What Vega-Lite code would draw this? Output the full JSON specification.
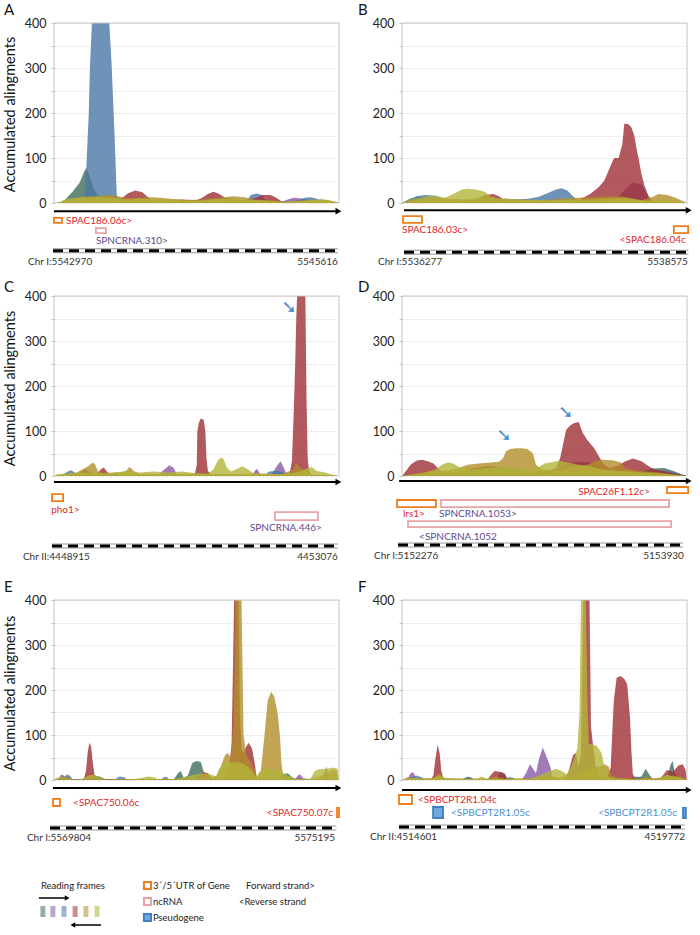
{
"$schema": "https://vega.github.io/schema/vega-lite/v6.json",
"padding": {"left": 2, "top": 3, "right": 2, "bottom": 0},
"config": {"view": {"stroke": null}, "font": "Lato", "text": {"font": "Lato"}},
"columns": 2,
"spacing": {"row": 20, "column": 63},
"bounds": "flush",
"datasets": {
"areas": [
{"p":"A","f":"+1","x":0,"y":0},{"p":"A","f":"+1","x":2,"y":1},{"p":"A","f":"+1","x":4,"y":8},{"p":"A","f":"+1","x":6.5,"y":25},{"p":"A","f":"+1","x":9,"y":45},{"p":"A","f":"+1","x":10.6,"y":70},{"p":"A","f":"+1","x":11.3,"y":78},{"p":"A","f":"+1","x":12.5,"y":60},{"p":"A","f":"+1","x":14,"y":30},{"p":"A","f":"+1","x":16,"y":12},{"p":"A","f":"+1","x":20,"y":6},{"p":"A","f":"+1","x":25,"y":3},{"p":"A","f":"+1","x":35,"y":4},{"p":"A","f":"+1","x":45,"y":6},{"p":"A","f":"+1","x":52,"y":3},{"p":"A","f":"+1","x":60,"y":2},{"p":"A","f":"+1","x":70,"y":4},{"p":"A","f":"+1","x":80,"y":2},{"p":"A","f":"+1","x":90,"y":3},{"p":"A","f":"+1","x":100,"y":0},
{"p":"A","f":"+2","x":0,"y":0},{"p":"A","f":"+2","x":20,"y":0},{"p":"A","f":"+2","x":21.5,"y":8},{"p":"A","f":"+2","x":23,"y":12},{"p":"A","f":"+2","x":24.5,"y":3},{"p":"A","f":"+2","x":30,"y":3},{"p":"A","f":"+2","x":50,"y":3},{"p":"A","f":"+2","x":60,"y":4},{"p":"A","f":"+2","x":70,"y":3},{"p":"A","f":"+2","x":80,"y":3},{"p":"A","f":"+2","x":82,"y":8},{"p":"A","f":"+2","x":84,"y":12},{"p":"A","f":"+2","x":87,"y":10},{"p":"A","f":"+2","x":90,"y":6},{"p":"A","f":"+2","x":94,"y":8},{"p":"A","f":"+2","x":97,"y":4},{"p":"A","f":"+2","x":100,"y":0},
{"p":"A","f":"+3","x":0,"y":0},{"p":"A","f":"+3","x":5,"y":0},{"p":"A","f":"+3","x":10.5,"y":2},{"p":"A","f":"+3","x":11,"y":40},{"p":"A","f":"+3","x":11.5,"y":100},{"p":"A","f":"+3","x":12.2,"y":200},{"p":"A","f":"+3","x":12.6,"y":300},{"p":"A","f":"+3","x":13.3,"y":420},{"p":"A","f":"+3","x":19.4,"y":420},{"p":"A","f":"+3","x":20.2,"y":310},{"p":"A","f":"+3","x":21.2,"y":160},{"p":"A","f":"+3","x":22,"y":20},{"p":"A","f":"+3","x":22.5,"y":5},{"p":"A","f":"+3","x":30,"y":5},{"p":"A","f":"+3","x":40,"y":6},{"p":"A","f":"+3","x":48,"y":5},{"p":"A","f":"+3","x":55,"y":4},{"p":"A","f":"+3","x":63,"y":5},{"p":"A","f":"+3","x":68,"y":8},{"p":"A","f":"+3","x":69,"y":18},{"p":"A","f":"+3","x":71,"y":21},{"p":"A","f":"+3","x":73,"y":18},{"p":"A","f":"+3","x":74,"y":8},{"p":"A","f":"+3","x":78,"y":3},{"p":"A","f":"+3","x":85,"y":5},{"p":"A","f":"+3","x":88,"y":12},{"p":"A","f":"+3","x":90,"y":13},{"p":"A","f":"+3","x":92,"y":10},{"p":"A","f":"+3","x":94,"y":3},{"p":"A","f":"+3","x":98,"y":1},{"p":"A","f":"+3","x":100,"y":0},
{"p":"A","f":"-1","x":0,"y":0},{"p":"A","f":"-1","x":20,"y":0},{"p":"A","f":"-1","x":22,"y":3},{"p":"A","f":"-1","x":24,"y":12},{"p":"A","f":"-1","x":26,"y":22},{"p":"A","f":"-1","x":28.5,"y":28},{"p":"A","f":"-1","x":31,"y":24},{"p":"A","f":"-1","x":33.5,"y":10},{"p":"A","f":"-1","x":36,"y":5},{"p":"A","f":"-1","x":40,"y":6},{"p":"A","f":"-1","x":45,"y":8},{"p":"A","f":"-1","x":50,"y":6},{"p":"A","f":"-1","x":52,"y":12},{"p":"A","f":"-1","x":54,"y":20},{"p":"A","f":"-1","x":56,"y":25},{"p":"A","f":"-1","x":58,"y":20},{"p":"A","f":"-1","x":60,"y":12},{"p":"A","f":"-1","x":64,"y":8},{"p":"A","f":"-1","x":68,"y":6},{"p":"A","f":"-1","x":71,"y":12},{"p":"A","f":"-1","x":73,"y":18},{"p":"A","f":"-1","x":76,"y":18},{"p":"A","f":"-1","x":78,"y":12},{"p":"A","f":"-1","x":80,"y":3},{"p":"A","f":"-1","x":84,"y":2},{"p":"A","f":"-1","x":100,"y":0},
{"p":"A","f":"-2","x":0,"y":0},{"p":"A","f":"-2","x":3,"y":2},{"p":"A","f":"-2","x":6,"y":8},{"p":"A","f":"-2","x":10,"y":14},{"p":"A","f":"-2","x":14,"y":15},{"p":"A","f":"-2","x":18,"y":18},{"p":"A","f":"-2","x":22,"y":16},{"p":"A","f":"-2","x":26,"y":10},{"p":"A","f":"-2","x":30,"y":12},{"p":"A","f":"-2","x":35,"y":13},{"p":"A","f":"-2","x":40,"y":10},{"p":"A","f":"-2","x":46,"y":7},{"p":"A","f":"-2","x":52,"y":8},{"p":"A","f":"-2","x":58,"y":12},{"p":"A","f":"-2","x":63,"y":15},{"p":"A","f":"-2","x":67,"y":13},{"p":"A","f":"-2","x":70,"y":8},{"p":"A","f":"-2","x":76,"y":6},{"p":"A","f":"-2","x":80,"y":3},{"p":"A","f":"-2","x":86,"y":5},{"p":"A","f":"-2","x":92,"y":8},{"p":"A","f":"-2","x":96,"y":7},{"p":"A","f":"-2","x":99,"y":2},{"p":"A","f":"-2","x":100,"y":0},
{"p":"A","f":"-3","x":0,"y":0},{"p":"A","f":"-3","x":2,"y":2},{"p":"A","f":"-3","x":5,"y":10},{"p":"A","f":"-3","x":10,"y":13},{"p":"A","f":"-3","x":15,"y":14},{"p":"A","f":"-3","x":20,"y":12},{"p":"A","f":"-3","x":25,"y":8},{"p":"A","f":"-3","x":30,"y":10},{"p":"A","f":"-3","x":35,"y":9},{"p":"A","f":"-3","x":40,"y":8},{"p":"A","f":"-3","x":45,"y":6},{"p":"A","f":"-3","x":50,"y":5},{"p":"A","f":"-3","x":55,"y":8},{"p":"A","f":"-3","x":60,"y":10},{"p":"A","f":"-3","x":65,"y":9},{"p":"A","f":"-3","x":70,"y":7},{"p":"A","f":"-3","x":75,"y":5},{"p":"A","f":"-3","x":80,"y":3},{"p":"A","f":"-3","x":85,"y":4},{"p":"A","f":"-3","x":90,"y":6},{"p":"A","f":"-3","x":95,"y":8},{"p":"A","f":"-3","x":99,"y":3},{"p":"A","f":"-3","x":100,"y":0},

{"p":"B","f":"+1","x":0,"y":0},{"p":"B","f":"+1","x":3,"y":10},{"p":"B","f":"+1","x":6,"y":14},{"p":"B","f":"+1","x":10,"y":10},{"p":"B","f":"+1","x":20,"y":5},{"p":"B","f":"+1","x":30,"y":6},{"p":"B","f":"+1","x":40,"y":4},{"p":"B","f":"+1","x":60,"y":5},{"p":"B","f":"+1","x":75,"y":6},{"p":"B","f":"+1","x":85,"y":4},{"p":"B","f":"+1","x":95,"y":3},{"p":"B","f":"+1","x":100,"y":0},
{"p":"B","f":"+2","x":0,"y":0},{"p":"B","f":"+2","x":30,"y":2},{"p":"B","f":"+2","x":38,"y":6},{"p":"B","f":"+2","x":42,"y":8},{"p":"B","f":"+2","x":46,"y":4},{"p":"B","f":"+2","x":60,"y":2},{"p":"B","f":"+2","x":72,"y":3},{"p":"B","f":"+2","x":76,"y":15},{"p":"B","f":"+2","x":79,"y":35},{"p":"B","f":"+2","x":81,"y":45},{"p":"B","f":"+2","x":84,"y":42},{"p":"B","f":"+2","x":86,"y":20},{"p":"B","f":"+2","x":88,"y":3},{"p":"B","f":"+2","x":100,"y":0},
{"p":"B","f":"+3","x":0,"y":0},{"p":"B","f":"+3","x":2,"y":5},{"p":"B","f":"+3","x":5,"y":15},{"p":"B","f":"+3","x":8,"y":18},{"p":"B","f":"+3","x":12,"y":16},{"p":"B","f":"+3","x":14,"y":10},{"p":"B","f":"+3","x":18,"y":5},{"p":"B","f":"+3","x":25,"y":4},{"p":"B","f":"+3","x":32,"y":6},{"p":"B","f":"+3","x":36,"y":10},{"p":"B","f":"+3","x":40,"y":8},{"p":"B","f":"+3","x":45,"y":10},{"p":"B","f":"+3","x":48,"y":14},{"p":"B","f":"+3","x":51,"y":22},{"p":"B","f":"+3","x":54,"y":30},{"p":"B","f":"+3","x":56,"y":33},{"p":"B","f":"+3","x":58,"y":28},{"p":"B","f":"+3","x":60,"y":15},{"p":"B","f":"+3","x":62,"y":5},{"p":"B","f":"+3","x":70,"y":3},{"p":"B","f":"+3","x":80,"y":2},{"p":"B","f":"+3","x":90,"y":2},{"p":"B","f":"+3","x":100,"y":0},
{"p":"B","f":"-1","x":0,"y":0},{"p":"B","f":"-1","x":10,"y":3},{"p":"B","f":"-1","x":20,"y":5},{"p":"B","f":"-1","x":26,"y":8},{"p":"B","f":"-1","x":29,"y":18},{"p":"B","f":"-1","x":32,"y":20},{"p":"B","f":"-1","x":34,"y":15},{"p":"B","f":"-1","x":36,"y":6},{"p":"B","f":"-1","x":45,"y":3},{"p":"B","f":"-1","x":55,"y":3},{"p":"B","f":"-1","x":60,"y":2},{"p":"B","f":"-1","x":61.5,"y":3},{"p":"B","f":"-1","x":63,"y":10},{"p":"B","f":"-1","x":66,"y":20},{"p":"B","f":"-1","x":69,"y":35},{"p":"B","f":"-1","x":71,"y":50},{"p":"B","f":"-1","x":73,"y":80},{"p":"B","f":"-1","x":74.4,"y":100},{"p":"B","f":"-1","x":76,"y":100},{"p":"B","f":"-1","x":77.3,"y":130},{"p":"B","f":"-1","x":78,"y":176},{"p":"B","f":"-1","x":79.5,"y":175},{"p":"B","f":"-1","x":80.5,"y":168},{"p":"B","f":"-1","x":81.5,"y":150},{"p":"B","f":"-1","x":82.3,"y":120},{"p":"B","f":"-1","x":83,"y":100},{"p":"B","f":"-1","x":84,"y":65},{"p":"B","f":"-1","x":85,"y":40},{"p":"B","f":"-1","x":86.7,"y":12},{"p":"B","f":"-1","x":88,"y":2},{"p":"B","f":"-1","x":92,"y":3},{"p":"B","f":"-1","x":100,"y":0},
{"p":"B","f":"-2","x":0,"y":0},{"p":"B","f":"-2","x":4,"y":6},{"p":"B","f":"-2","x":10,"y":12},{"p":"B","f":"-2","x":16,"y":10},{"p":"B","f":"-2","x":22,"y":8},{"p":"B","f":"-2","x":28,"y":12},{"p":"B","f":"-2","x":34,"y":10},{"p":"B","f":"-2","x":40,"y":8},{"p":"B","f":"-2","x":48,"y":6},{"p":"B","f":"-2","x":52,"y":8},{"p":"B","f":"-2","x":56,"y":10},{"p":"B","f":"-2","x":62,"y":12},{"p":"B","f":"-2","x":70,"y":14},{"p":"B","f":"-2","x":76,"y":15},{"p":"B","f":"-2","x":80,"y":12},{"p":"B","f":"-2","x":84,"y":6},{"p":"B","f":"-2","x":88,"y":14},{"p":"B","f":"-2","x":90,"y":20},{"p":"B","f":"-2","x":93,"y":18},{"p":"B","f":"-2","x":96,"y":12},{"p":"B","f":"-2","x":99,"y":3},{"p":"B","f":"-2","x":100,"y":0},
{"p":"B","f":"-3","x":0,"y":0},{"p":"B","f":"-3","x":3,"y":8},{"p":"B","f":"-3","x":8,"y":14},{"p":"B","f":"-3","x":12,"y":16},{"p":"B","f":"-3","x":15,"y":12},{"p":"B","f":"-3","x":18,"y":20},{"p":"B","f":"-3","x":21,"y":30},{"p":"B","f":"-3","x":23,"y":32},{"p":"B","f":"-3","x":26,"y":30},{"p":"B","f":"-3","x":29,"y":25},{"p":"B","f":"-3","x":31,"y":15},{"p":"B","f":"-3","x":34,"y":10},{"p":"B","f":"-3","x":40,"y":8},{"p":"B","f":"-3","x":50,"y":6},{"p":"B","f":"-3","x":60,"y":8},{"p":"B","f":"-3","x":66,"y":8},{"p":"B","f":"-3","x":72,"y":10},{"p":"B","f":"-3","x":78,"y":12},{"p":"B","f":"-3","x":82,"y":8},{"p":"B","f":"-3","x":86,"y":5},{"p":"B","f":"-3","x":90,"y":8},{"p":"B","f":"-3","x":95,"y":6},{"p":"B","f":"-3","x":100,"y":0},

{"p":"C","f":"+1","x":0,"y":0},{"p":"C","f":"+1","x":8,"y":3},{"p":"C","f":"+1","x":11,"y":15},{"p":"C","f":"+1","x":12,"y":10},{"p":"C","f":"+1","x":14,"y":4},{"p":"C","f":"+1","x":30,"y":3},{"p":"C","f":"+1","x":60,"y":2},{"p":"C","f":"+1","x":90,"y":2},{"p":"C","f":"+1","x":100,"y":0},
{"p":"C","f":"+2","x":0,"y":0},{"p":"C","f":"+2","x":35,"y":0},{"p":"C","f":"+2","x":37,"y":5},{"p":"C","f":"+2","x":38.8,"y":15},{"p":"C","f":"+2","x":40.5,"y":24},{"p":"C","f":"+2","x":42,"y":18},{"p":"C","f":"+2","x":43,"y":5},{"p":"C","f":"+2","x":45,"y":2},{"p":"C","f":"+2","x":69.5,"y":0},{"p":"C","f":"+2","x":70.3,"y":10},{"p":"C","f":"+2","x":71.2,"y":16},{"p":"C","f":"+2","x":72.3,"y":5},{"p":"C","f":"+2","x":73,"y":0},{"p":"C","f":"+2","x":76,"y":2},{"p":"C","f":"+2","x":77,"y":10},{"p":"C","f":"+2","x":78.5,"y":25},{"p":"C","f":"+2","x":79.5,"y":33},{"p":"C","f":"+2","x":80.5,"y":20},{"p":"C","f":"+2","x":81.5,"y":5},{"p":"C","f":"+2","x":83,"y":0},{"p":"C","f":"+2","x":100,"y":0},
{"p":"C","f":"+3","x":0,"y":0},{"p":"C","f":"+3","x":3,"y":3},{"p":"C","f":"+3","x":4.8,"y":10},{"p":"C","f":"+3","x":6,"y":13},{"p":"C","f":"+3","x":7.7,"y":6},{"p":"C","f":"+3","x":9,"y":2},{"p":"C","f":"+3","x":20,"y":2},{"p":"C","f":"+3","x":21,"y":6},{"p":"C","f":"+3","x":22,"y":8},{"p":"C","f":"+3","x":23,"y":3},{"p":"C","f":"+3","x":40,"y":2},{"p":"C","f":"+3","x":60,"y":2},{"p":"C","f":"+3","x":74,"y":3},{"p":"C","f":"+3","x":75.5,"y":10},{"p":"C","f":"+3","x":78,"y":12},{"p":"C","f":"+3","x":80,"y":10},{"p":"C","f":"+3","x":81,"y":4},{"p":"C","f":"+3","x":82.5,"y":2},{"p":"C","f":"+3","x":100,"y":0},
{"p":"C","f":"-1","x":0,"y":0},{"p":"C","f":"-1","x":2,"y":2},{"p":"C","f":"-1","x":10,"y":4},{"p":"C","f":"-1","x":15,"y":5},{"p":"C","f":"-1","x":16.5,"y":15},{"p":"C","f":"-1","x":17.5,"y":19},{"p":"C","f":"-1","x":18.5,"y":10},{"p":"C","f":"-1","x":20,"y":3},{"p":"C","f":"-1","x":30,"y":3},{"p":"C","f":"-1","x":40,"y":4},{"p":"C","f":"-1","x":48,"y":4},{"p":"C","f":"-1","x":49.5,"y":6},{"p":"C","f":"-1","x":50.1,"y":25},{"p":"C","f":"-1","x":50.3,"y":100},{"p":"C","f":"-1","x":50.8,"y":118},{"p":"C","f":"-1","x":51.5,"y":128},{"p":"C","f":"-1","x":52.5,"y":125},{"p":"C","f":"-1","x":53.1,"y":100},{"p":"C","f":"-1","x":53.5,"y":40},{"p":"C","f":"-1","x":54,"y":12},{"p":"C","f":"-1","x":55,"y":4},{"p":"C","f":"-1","x":65,"y":3},{"p":"C","f":"-1","x":75,"y":3},{"p":"C","f":"-1","x":80,"y":4},{"p":"C","f":"-1","x":82.5,"y":4},{"p":"C","f":"-1","x":83,"y":15},{"p":"C","f":"-1","x":83.5,"y":35},{"p":"C","f":"-1","x":84,"y":120},{"p":"C","f":"-1","x":84.6,"y":242},{"p":"C","f":"-1","x":85,"y":350},{"p":"C","f":"-1","x":85.3,"y":420},{"p":"C","f":"-1","x":88.2,"y":420},{"p":"C","f":"-1","x":88.6,"y":170},{"p":"C","f":"-1","x":89,"y":40},{"p":"C","f":"-1","x":89.5,"y":10},{"p":"C","f":"-1","x":90.5,"y":3},{"p":"C","f":"-1","x":95,"y":2},{"p":"C","f":"-1","x":100,"y":0},
{"p":"C","f":"-2","x":0,"y":0},{"p":"C","f":"-2","x":3,"y":3},{"p":"C","f":"-2","x":8,"y":8},{"p":"C","f":"-2","x":10,"y":15},{"p":"C","f":"-2","x":12,"y":22},{"p":"C","f":"-2","x":13.6,"y":30},{"p":"C","f":"-2","x":14.5,"y":25},{"p":"C","f":"-2","x":15.4,"y":10},{"p":"C","f":"-2","x":18,"y":5},{"p":"C","f":"-2","x":22,"y":6},{"p":"C","f":"-2","x":25.3,"y":12},{"p":"C","f":"-2","x":26.5,"y":20},{"p":"C","f":"-2","x":28.3,"y":10},{"p":"C","f":"-2","x":30,"y":5},{"p":"C","f":"-2","x":40,"y":4},{"p":"C","f":"-2","x":50,"y":5},{"p":"C","f":"-2","x":60,"y":4},{"p":"C","f":"-2","x":70,"y":5},{"p":"C","f":"-2","x":80,"y":4},{"p":"C","f":"-2","x":84,"y":15},{"p":"C","f":"-2","x":85,"y":30},{"p":"C","f":"-2","x":86,"y":20},{"p":"C","f":"-2","x":90,"y":3},{"p":"C","f":"-2","x":100,"y":0},
{"p":"C","f":"-3","x":0,"y":0},{"p":"C","f":"-3","x":1,"y":4},{"p":"C","f":"-3","x":5,"y":6},{"p":"C","f":"-3","x":10,"y":8},{"p":"C","f":"-3","x":15,"y":6},{"p":"C","f":"-3","x":20,"y":8},{"p":"C","f":"-3","x":25,"y":10},{"p":"C","f":"-3","x":30,"y":8},{"p":"C","f":"-3","x":35,"y":10},{"p":"C","f":"-3","x":40,"y":8},{"p":"C","f":"-3","x":45,"y":10},{"p":"C","f":"-3","x":50,"y":6},{"p":"C","f":"-3","x":54,"y":5},{"p":"C","f":"-3","x":56,"y":15},{"p":"C","f":"-3","x":57.5,"y":35},{"p":"C","f":"-3","x":58.5,"y":41},{"p":"C","f":"-3","x":59.5,"y":38},{"p":"C","f":"-3","x":60.5,"y":20},{"p":"C","f":"-3","x":62,"y":10},{"p":"C","f":"-3","x":64,"y":15},{"p":"C","f":"-3","x":66,"y":22},{"p":"C","f":"-3","x":68,"y":15},{"p":"C","f":"-3","x":70,"y":6},{"p":"C","f":"-3","x":75,"y":5},{"p":"C","f":"-3","x":80,"y":4},{"p":"C","f":"-3","x":84,"y":6},{"p":"C","f":"-3","x":87,"y":12},{"p":"C","f":"-3","x":89,"y":18},{"p":"C","f":"-3","x":90.5,"y":20},{"p":"C","f":"-3","x":92,"y":12},{"p":"C","f":"-3","x":95,"y":8},{"p":"C","f":"-3","x":98,"y":3},{"p":"C","f":"-3","x":100,"y":0},

{"p":"D","f":"+1","x":0,"y":0},{"p":"D","f":"+1","x":10,"y":5},{"p":"D","f":"+1","x":20,"y":10},{"p":"D","f":"+1","x":25,"y":18},{"p":"D","f":"+1","x":30,"y":22},{"p":"D","f":"+1","x":35,"y":20},{"p":"D","f":"+1","x":40,"y":15},{"p":"D","f":"+1","x":45,"y":10},{"p":"D","f":"+1","x":50,"y":12},{"p":"D","f":"+1","x":55,"y":15},{"p":"D","f":"+1","x":60,"y":18},{"p":"D","f":"+1","x":65,"y":12},{"p":"D","f":"+1","x":70,"y":10},{"p":"D","f":"+1","x":80,"y":8},{"p":"D","f":"+1","x":85,"y":12},{"p":"D","f":"+1","x":88,"y":17},{"p":"D","f":"+1","x":92,"y":18},{"p":"D","f":"+1","x":95,"y":12},{"p":"D","f":"+1","x":98,"y":4},{"p":"D","f":"+1","x":100,"y":0},
{"p":"D","f":"+2","x":0,"y":0},{"p":"D","f":"+2","x":50,"y":3},{"p":"D","f":"+2","x":55,"y":15},{"p":"D","f":"+2","x":58,"y":28},{"p":"D","f":"+2","x":62,"y":32},{"p":"D","f":"+2","x":66,"y":30},{"p":"D","f":"+2","x":69,"y":22},{"p":"D","f":"+2","x":72,"y":8},{"p":"D","f":"+2","x":80,"y":8},{"p":"D","f":"+2","x":85,"y":10},{"p":"D","f":"+2","x":90,"y":6},{"p":"D","f":"+2","x":100,"y":0},
{"p":"D","f":"+3","x":0,"y":0},{"p":"D","f":"+3","x":40,"y":3},{"p":"D","f":"+3","x":80,"y":5},{"p":"D","f":"+3","x":88,"y":10},{"p":"D","f":"+3","x":92,"y":12},{"p":"D","f":"+3","x":96,"y":8},{"p":"D","f":"+3","x":100,"y":0},
{"p":"D","f":"-1","x":0,"y":0},{"p":"D","f":"-1","x":1,"y":8},{"p":"D","f":"-1","x":3,"y":25},{"p":"D","f":"-1","x":5,"y":34},{"p":"D","f":"-1","x":7,"y":36},{"p":"D","f":"-1","x":9,"y":33},{"p":"D","f":"-1","x":11,"y":28},{"p":"D","f":"-1","x":13,"y":15},{"p":"D","f":"-1","x":15,"y":5},{"p":"D","f":"-1","x":20,"y":3},{"p":"D","f":"-1","x":30,"y":4},{"p":"D","f":"-1","x":40,"y":5},{"p":"D","f":"-1","x":50,"y":8},{"p":"D","f":"-1","x":54,"y":18},{"p":"D","f":"-1","x":55.5,"y":40},{"p":"D","f":"-1","x":56.5,"y":70},{"p":"D","f":"-1","x":57.6,"y":103},{"p":"D","f":"-1","x":59,"y":112},{"p":"D","f":"-1","x":60.5,"y":118},{"p":"D","f":"-1","x":62,"y":120},{"p":"D","f":"-1","x":63.4,"y":96},{"p":"D","f":"-1","x":65,"y":80},{"p":"D","f":"-1","x":65.7,"y":75},{"p":"D","f":"-1","x":67.5,"y":61},{"p":"D","f":"-1","x":69.8,"y":36},{"p":"D","f":"-1","x":71,"y":25},{"p":"D","f":"-1","x":73,"y":18},{"p":"D","f":"-1","x":76,"y":24},{"p":"D","f":"-1","x":78,"y":32},{"p":"D","f":"-1","x":81,"y":39},{"p":"D","f":"-1","x":84,"y":33},{"p":"D","f":"-1","x":87,"y":20},{"p":"D","f":"-1","x":89,"y":14},{"p":"D","f":"-1","x":93,"y":10},{"p":"D","f":"-1","x":96,"y":5},{"p":"D","f":"-1","x":100,"y":0},
{"p":"D","f":"-2","x":0,"y":0},{"p":"D","f":"-2","x":5,"y":5},{"p":"D","f":"-2","x":10,"y":10},{"p":"D","f":"-2","x":15,"y":12},{"p":"D","f":"-2","x":20,"y":18},{"p":"D","f":"-2","x":23,"y":25},{"p":"D","f":"-2","x":27,"y":28},{"p":"D","f":"-2","x":31,"y":30},{"p":"D","f":"-2","x":34,"y":32},{"p":"D","f":"-2","x":35.5,"y":40},{"p":"D","f":"-2","x":36.5,"y":55},{"p":"D","f":"-2","x":38,"y":60},{"p":"D","f":"-2","x":40,"y":62},{"p":"D","f":"-2","x":42,"y":62},{"p":"D","f":"-2","x":44,"y":60},{"p":"D","f":"-2","x":46,"y":50},{"p":"D","f":"-2","x":47,"y":25},{"p":"D","f":"-2","x":49,"y":15},{"p":"D","f":"-2","x":52,"y":12},{"p":"D","f":"-2","x":56,"y":15},{"p":"D","f":"-2","x":60,"y":20},{"p":"D","f":"-2","x":65,"y":25},{"p":"D","f":"-2","x":67.5,"y":32},{"p":"D","f":"-2","x":70,"y":36},{"p":"D","f":"-2","x":74,"y":35},{"p":"D","f":"-2","x":76.8,"y":30},{"p":"D","f":"-2","x":78,"y":18},{"p":"D","f":"-2","x":82,"y":12},{"p":"D","f":"-2","x":86,"y":10},{"p":"D","f":"-2","x":90,"y":8},{"p":"D","f":"-2","x":95,"y":4},{"p":"D","f":"-2","x":100,"y":0},
{"p":"D","f":"-3","x":0,"y":0},{"p":"D","f":"-3","x":4,"y":4},{"p":"D","f":"-3","x":8,"y":8},{"p":"D","f":"-3","x":12,"y":15},{"p":"D","f":"-3","x":14,"y":25},{"p":"D","f":"-3","x":16,"y":30},{"p":"D","f":"-3","x":18,"y":28},{"p":"D","f":"-3","x":20,"y":20},{"p":"D","f":"-3","x":24,"y":15},{"p":"D","f":"-3","x":30,"y":18},{"p":"D","f":"-3","x":35,"y":20},{"p":"D","f":"-3","x":40,"y":18},{"p":"D","f":"-3","x":45,"y":15},{"p":"D","f":"-3","x":48,"y":20},{"p":"D","f":"-3","x":50,"y":28},{"p":"D","f":"-3","x":52,"y":30},{"p":"D","f":"-3","x":55,"y":34},{"p":"D","f":"-3","x":58,"y":30},{"p":"D","f":"-3","x":62,"y":25},{"p":"D","f":"-3","x":66,"y":22},{"p":"D","f":"-3","x":70,"y":15},{"p":"D","f":"-3","x":75,"y":12},{"p":"D","f":"-3","x":80,"y":10},{"p":"D","f":"-3","x":85,"y":8},{"p":"D","f":"-3","x":90,"y":6},{"p":"D","f":"-3","x":95,"y":3},{"p":"D","f":"-3","x":100,"y":0},

{"p":"E","f":"+1","x":0,"y":0},{"p":"E","f":"+1","x":12,"y":2},{"p":"E","f":"+1","x":14,"y":10},{"p":"E","f":"+1","x":16,"y":8},{"p":"E","f":"+1","x":18,"y":2},{"p":"E","f":"+1","x":42,"y":1},{"p":"E","f":"+1","x":43.5,"y":15},{"p":"E","f":"+1","x":44.5,"y":20},{"p":"E","f":"+1","x":45.5,"y":5},{"p":"E","f":"+1","x":47,"y":10},{"p":"E","f":"+1","x":48.5,"y":38},{"p":"E","f":"+1","x":50,"y":42},{"p":"E","f":"+1","x":51.5,"y":40},{"p":"E","f":"+1","x":52.7,"y":15},{"p":"E","f":"+1","x":54,"y":3},{"p":"E","f":"+1","x":79,"y":2},{"p":"E","f":"+1","x":80,"y":12},{"p":"E","f":"+1","x":82,"y":15},{"p":"E","f":"+1","x":84,"y":4},{"p":"E","f":"+1","x":100,"y":0},
{"p":"E","f":"+2","x":0,"y":0},{"p":"E","f":"+2","x":1.5,"y":2},{"p":"E","f":"+2","x":2.5,"y":12},{"p":"E","f":"+2","x":3.5,"y":10},{"p":"E","f":"+2","x":4.5,"y":0},{"p":"E","f":"+2","x":84.5,"y":0},{"p":"E","f":"+2","x":85.5,"y":10},{"p":"E","f":"+2","x":86.5,"y":12},{"p":"E","f":"+2","x":87.5,"y":3},{"p":"E","f":"+2","x":94,"y":0},{"p":"E","f":"+2","x":95,"y":18},{"p":"E","f":"+2","x":95.6,"y":30},{"p":"E","f":"+2","x":96.2,"y":10},{"p":"E","f":"+2","x":97,"y":0},{"p":"E","f":"+2","x":100,"y":0},
{"p":"E","f":"+3","x":0,"y":0},{"p":"E","f":"+3","x":3,"y":3},{"p":"E","f":"+3","x":4.5,"y":12},{"p":"E","f":"+3","x":5.5,"y":10},{"p":"E","f":"+3","x":6.5,"y":2},{"p":"E","f":"+3","x":21,"y":0},{"p":"E","f":"+3","x":22,"y":4},{"p":"E","f":"+3","x":23,"y":8},{"p":"E","f":"+3","x":24.5,"y":6},{"p":"E","f":"+3","x":26,"y":0},{"p":"E","f":"+3","x":37.5,"y":0},{"p":"E","f":"+3","x":38.5,"y":6},{"p":"E","f":"+3","x":39.5,"y":7},{"p":"E","f":"+3","x":40.5,"y":0},{"p":"E","f":"+3","x":100,"y":0},
{"p":"E","f":"-1","x":0,"y":0},{"p":"E","f":"-1","x":2,"y":3},{"p":"E","f":"-1","x":3,"y":8},{"p":"E","f":"-1","x":5,"y":6},{"p":"E","f":"-1","x":6,"y":2},{"p":"E","f":"-1","x":10,"y":2},{"p":"E","f":"-1","x":10.5,"y":3},{"p":"E","f":"-1","x":11.2,"y":20},{"p":"E","f":"-1","x":11.8,"y":60},{"p":"E","f":"-1","x":12.4,"y":83},{"p":"E","f":"-1","x":13,"y":75},{"p":"E","f":"-1","x":13.6,"y":40},{"p":"E","f":"-1","x":14.2,"y":12},{"p":"E","f":"-1","x":15,"y":5},{"p":"E","f":"-1","x":17,"y":2},{"p":"E","f":"-1","x":45,"y":2},{"p":"E","f":"-1","x":47,"y":5},{"p":"E","f":"-1","x":48,"y":3},{"p":"E","f":"-1","x":50,"y":4},{"p":"E","f":"-1","x":51,"y":10},{"p":"E","f":"-1","x":52.5,"y":18},{"p":"E","f":"-1","x":54,"y":15},{"p":"E","f":"-1","x":55,"y":8},{"p":"E","f":"-1","x":56,"y":3},{"p":"E","f":"-1","x":60,"y":5},{"p":"E","f":"-1","x":61.5,"y":30},{"p":"E","f":"-1","x":62.3,"y":80},{"p":"E","f":"-1","x":62.8,"y":250},{"p":"E","f":"-1","x":63.2,"y":420},{"p":"E","f":"-1","x":64.8,"y":420},{"p":"E","f":"-1","x":65.2,"y":150},{"p":"E","f":"-1","x":65.8,"y":70},{"p":"E","f":"-1","x":66.5,"y":60},{"p":"E","f":"-1","x":67.5,"y":75},{"p":"E","f":"-1","x":68.3,"y":83},{"p":"E","f":"-1","x":69.5,"y":70},{"p":"E","f":"-1","x":70.5,"y":35},{"p":"E","f":"-1","x":71.1,"y":3},{"p":"E","f":"-1","x":72,"y":0},{"p":"E","f":"-1","x":100,"y":0},
{"p":"E","f":"-2","x":0,"y":0},{"p":"E","f":"-2","x":20,"y":0},{"p":"E","f":"-2","x":22,"y":2},{"p":"E","f":"-2","x":40,"y":2},{"p":"E","f":"-2","x":55,"y":3},{"p":"E","f":"-2","x":57,"y":10},{"p":"E","f":"-2","x":58.5,"y":30},{"p":"E","f":"-2","x":60,"y":55},{"p":"E","f":"-2","x":61,"y":60},{"p":"E","f":"-2","x":62,"y":50},{"p":"E","f":"-2","x":63,"y":120},{"p":"E","f":"-2","x":63.8,"y":420},{"p":"E","f":"-2","x":65.8,"y":420},{"p":"E","f":"-2","x":66.5,"y":100},{"p":"E","f":"-2","x":67.5,"y":55},{"p":"E","f":"-2","x":69,"y":40},{"p":"E","f":"-2","x":70.5,"y":20},{"p":"E","f":"-2","x":71.5,"y":5},{"p":"E","f":"-2","x":72.6,"y":22},{"p":"E","f":"-2","x":73.8,"y":96},{"p":"E","f":"-2","x":75,"y":178},{"p":"E","f":"-2","x":76.2,"y":196},{"p":"E","f":"-2","x":77.3,"y":185},{"p":"E","f":"-2","x":78.5,"y":148},{"p":"E","f":"-2","x":79.3,"y":96},{"p":"E","f":"-2","x":79.8,"y":37},{"p":"E","f":"-2","x":80.5,"y":8},{"p":"E","f":"-2","x":81,"y":2},{"p":"E","f":"-2","x":90,"y":2},{"p":"E","f":"-2","x":94,"y":10},{"p":"E","f":"-2","x":97,"y":20},{"p":"E","f":"-2","x":99,"y":22},{"p":"E","f":"-2","x":100,"y":0},
{"p":"E","f":"-3","x":0,"y":0},{"p":"E","f":"-3","x":1,"y":5},{"p":"E","f":"-3","x":3,"y":8},{"p":"E","f":"-3","x":5,"y":5},{"p":"E","f":"-3","x":7,"y":1},{"p":"E","f":"-3","x":10,"y":3},{"p":"E","f":"-3","x":12,"y":10},{"p":"E","f":"-3","x":14,"y":12},{"p":"E","f":"-3","x":16,"y":6},{"p":"E","f":"-3","x":18,"y":1},{"p":"E","f":"-3","x":27,"y":1},{"p":"E","f":"-3","x":29,"y":3},{"p":"E","f":"-3","x":31,"y":5},{"p":"E","f":"-3","x":33,"y":8},{"p":"E","f":"-3","x":35,"y":6},{"p":"E","f":"-3","x":37,"y":1},{"p":"E","f":"-3","x":42,"y":1},{"p":"E","f":"-3","x":44,"y":4},{"p":"E","f":"-3","x":48,"y":10},{"p":"E","f":"-3","x":52,"y":15},{"p":"E","f":"-3","x":55,"y":12},{"p":"E","f":"-3","x":57,"y":8},{"p":"E","f":"-3","x":58,"y":25},{"p":"E","f":"-3","x":60,"y":38},{"p":"E","f":"-3","x":63,"y":40},{"p":"E","f":"-3","x":66,"y":38},{"p":"E","f":"-3","x":68,"y":30},{"p":"E","f":"-3","x":70,"y":15},{"p":"E","f":"-3","x":71,"y":5},{"p":"E","f":"-3","x":72,"y":18},{"p":"E","f":"-3","x":75,"y":25},{"p":"E","f":"-3","x":79,"y":20},{"p":"E","f":"-3","x":82,"y":10},{"p":"E","f":"-3","x":85,"y":3},{"p":"E","f":"-3","x":88,"y":1},{"p":"E","f":"-3","x":90,"y":3},{"p":"E","f":"-3","x":91.5,"y":20},{"p":"E","f":"-3","x":93,"y":24},{"p":"E","f":"-3","x":96,"y":25},{"p":"E","f":"-3","x":98,"y":28},{"p":"E","f":"-3","x":99.5,"y":25},{"p":"E","f":"-3","x":100,"y":0},

{"p":"F","f":"+1","x":0,"y":0},{"p":"F","f":"+1","x":21,"y":0},{"p":"F","f":"+1","x":22,"y":5},{"p":"F","f":"+1","x":24,"y":6},{"p":"F","f":"+1","x":25,"y":0},{"p":"F","f":"+1","x":36,"y":0},{"p":"F","f":"+1","x":37.5,"y":6},{"p":"F","f":"+1","x":39,"y":5},{"p":"F","f":"+1","x":40,"y":0},{"p":"F","f":"+1","x":70,"y":0},{"p":"F","f":"+1","x":80,"y":3},{"p":"F","f":"+1","x":84,"y":8},{"p":"F","f":"+1","x":85.5,"y":25},{"p":"F","f":"+1","x":87,"y":10},{"p":"F","f":"+1","x":88,"y":2},{"p":"F","f":"+1","x":93,"y":5},{"p":"F","f":"+1","x":94.3,"y":35},{"p":"F","f":"+1","x":95,"y":42},{"p":"F","f":"+1","x":95.7,"y":15},{"p":"F","f":"+1","x":97,"y":5},{"p":"F","f":"+1","x":100,"y":0},
{"p":"F","f":"+2","x":0,"y":0},{"p":"F","f":"+2","x":2,"y":2},{"p":"F","f":"+2","x":3,"y":15},{"p":"F","f":"+2","x":4,"y":17},{"p":"F","f":"+2","x":5,"y":3},{"p":"F","f":"+2","x":42,"y":0},{"p":"F","f":"+2","x":43.5,"y":15},{"p":"F","f":"+2","x":44.9,"y":35},{"p":"F","f":"+2","x":46,"y":25},{"p":"F","f":"+2","x":47,"y":15},{"p":"F","f":"+2","x":48,"y":45},{"p":"F","f":"+2","x":49.4,"y":72},{"p":"F","f":"+2","x":50.5,"y":55},{"p":"F","f":"+2","x":52,"y":30},{"p":"F","f":"+2","x":53,"y":5},{"p":"F","f":"+2","x":54,"y":0},{"p":"F","f":"+2","x":100,"y":0},
{"p":"F","f":"+3","x":0,"y":0},{"p":"F","f":"+3","x":3,"y":5},{"p":"F","f":"+3","x":5,"y":10},{"p":"F","f":"+3","x":7,"y":6},{"p":"F","f":"+3","x":8,"y":0},{"p":"F","f":"+3","x":21.5,"y":0},{"p":"F","f":"+3","x":23,"y":8},{"p":"F","f":"+3","x":24.5,"y":5},{"p":"F","f":"+3","x":25.5,"y":0},{"p":"F","f":"+3","x":33,"y":0},{"p":"F","f":"+3","x":34.5,"y":18},{"p":"F","f":"+3","x":36,"y":12},{"p":"F","f":"+3","x":37,"y":0},{"p":"F","f":"+3","x":80,"y":0},{"p":"F","f":"+3","x":82,"y":8},{"p":"F","f":"+3","x":84,"y":6},{"p":"F","f":"+3","x":85,"y":0},{"p":"F","f":"+3","x":100,"y":0},
{"p":"F","f":"-1","x":0,"y":0},{"p":"F","f":"-1","x":10,"y":0},{"p":"F","f":"-1","x":11,"y":10},{"p":"F","f":"-1","x":11.8,"y":50},{"p":"F","f":"-1","x":12.5,"y":79},{"p":"F","f":"-1","x":13.2,"y":60},{"p":"F","f":"-1","x":13.8,"y":20},{"p":"F","f":"-1","x":14.5,"y":4},{"p":"F","f":"-1","x":16,"y":0},{"p":"F","f":"-1","x":30,"y":0},{"p":"F","f":"-1","x":31,"y":10},{"p":"F","f":"-1","x":32.5,"y":20},{"p":"F","f":"-1","x":34.5,"y":18},{"p":"F","f":"-1","x":36,"y":15},{"p":"F","f":"-1","x":37,"y":3},{"p":"F","f":"-1","x":38,"y":0},{"p":"F","f":"-1","x":57,"y":0},{"p":"F","f":"-1","x":58.5,"y":20},{"p":"F","f":"-1","x":60,"y":55},{"p":"F","f":"-1","x":61,"y":60},{"p":"F","f":"-1","x":62,"y":30},{"p":"F","f":"-1","x":62.8,"y":60},{"p":"F","f":"-1","x":63.6,"y":420},{"p":"F","f":"-1","x":65.8,"y":420},{"p":"F","f":"-1","x":66.3,"y":120},{"p":"F","f":"-1","x":67,"y":79},{"p":"F","f":"-1","x":68,"y":30},{"p":"F","f":"-1","x":69,"y":10},{"p":"F","f":"-1","x":72,"y":5},{"p":"F","f":"-1","x":73.2,"y":27},{"p":"F","f":"-1","x":74.3,"y":175},{"p":"F","f":"-1","x":75.3,"y":227},{"p":"F","f":"-1","x":76.7,"y":231},{"p":"F","f":"-1","x":78.1,"y":224},{"p":"F","f":"-1","x":79,"y":213},{"p":"F","f":"-1","x":80,"y":139},{"p":"F","f":"-1","x":80.5,"y":64},{"p":"F","f":"-1","x":81,"y":13},{"p":"F","f":"-1","x":82,"y":3},{"p":"F","f":"-1","x":90,"y":0},{"p":"F","f":"-1","x":91.5,"y":10},{"p":"F","f":"-1","x":93,"y":22},{"p":"F","f":"-1","x":95,"y":18},{"p":"F","f":"-1","x":97,"y":32},{"p":"F","f":"-1","x":98.5,"y":35},{"p":"F","f":"-1","x":99.5,"y":22},{"p":"F","f":"-1","x":100,"y":0},
{"p":"F","f":"-2","x":0,"y":0},{"p":"F","f":"-2","x":2,"y":6},{"p":"F","f":"-2","x":5,"y":4},{"p":"F","f":"-2","x":11,"y":4},{"p":"F","f":"-2","x":13,"y":15},{"p":"F","f":"-2","x":15,"y":4},{"p":"F","f":"-2","x":30,"y":3},{"p":"F","f":"-2","x":33,"y":8},{"p":"F","f":"-2","x":36,"y":3},{"p":"F","f":"-2","x":45,"y":4},{"p":"F","f":"-2","x":48,"y":8},{"p":"F","f":"-2","x":52,"y":8},{"p":"F","f":"-2","x":56,"y":6},{"p":"F","f":"-2","x":60,"y":12},{"p":"F","f":"-2","x":66,"y":25},{"p":"F","f":"-2","x":69.6,"y":30},{"p":"F","f":"-2","x":71,"y":35},{"p":"F","f":"-2","x":72.5,"y":30},{"p":"F","f":"-2","x":73.5,"y":10},{"p":"F","f":"-2","x":76,"y":5},{"p":"F","f":"-2","x":82,"y":3},{"p":"F","f":"-2","x":86,"y":6},{"p":"F","f":"-2","x":88,"y":4},{"p":"F","f":"-2","x":92,"y":6},{"p":"F","f":"-2","x":95,"y":10},{"p":"F","f":"-2","x":98,"y":6},{"p":"F","f":"-2","x":100,"y":0},
{"p":"F","f":"-3","x":0,"y":0},{"p":"F","f":"-3","x":2,"y":3},{"p":"F","f":"-3","x":4,"y":5},{"p":"F","f":"-3","x":8,"y":2},{"p":"F","f":"-3","x":11,"y":5},{"p":"F","f":"-3","x":13,"y":10},{"p":"F","f":"-3","x":15,"y":5},{"p":"F","f":"-3","x":20,"y":2},{"p":"F","f":"-3","x":26,"y":3},{"p":"F","f":"-3","x":28,"y":8},{"p":"F","f":"-3","x":30,"y":2},{"p":"F","f":"-3","x":45,"y":2},{"p":"F","f":"-3","x":48,"y":10},{"p":"F","f":"-3","x":50,"y":15},{"p":"F","f":"-3","x":52,"y":20},{"p":"F","f":"-3","x":54,"y":25},{"p":"F","f":"-3","x":56,"y":20},{"p":"F","f":"-3","x":58,"y":12},{"p":"F","f":"-3","x":60,"y":40},{"p":"F","f":"-3","x":61.5,"y":70},{"p":"F","f":"-3","x":62.3,"y":150},{"p":"F","f":"-3","x":62.8,"y":420},{"p":"F","f":"-3","x":64.5,"y":420},{"p":"F","f":"-3","x":65,"y":200},{"p":"F","f":"-3","x":65.5,"y":80},{"p":"F","f":"-3","x":67,"y":79},{"p":"F","f":"-3","x":68.5,"y":75},{"p":"F","f":"-3","x":70,"y":60},{"p":"F","f":"-3","x":71,"y":30},{"p":"F","f":"-3","x":72,"y":8},{"p":"F","f":"-3","x":75,"y":3},{"p":"F","f":"-3","x":80,"y":2},{"p":"F","f":"-3","x":90,"y":3},{"p":"F","f":"-3","x":93,"y":12},{"p":"F","f":"-3","x":95,"y":8},{"p":"F","f":"-3","x":98,"y":5},{"p":"F","f":"-3","x":100,"y":0}
],
"boxes": [
{"p":"A","k":"gene","x":0,"x2":2.8,"y":-33,"y2":-44},
{"p":"A","k":"ncRNA","x":14.7,"x2":18.2,"y":-55.6,"y2":-66.7},
{"p":"B","k":"gene","x":0.35,"x2":7,"y":-29,"y2":-44},
{"p":"B","k":"gene","x":95.4,"x2":100.4,"y":-51,"y2":-66.7},
{"p":"C","k":"gene","x":-0.7,"x2":3.2,"y":-40,"y2":-55.6},
{"p":"C","k":"ncRNA","x":77.5,"x2":92.6,"y":-80,"y2":-97.8},
{"p":"D","k":"gene","x":93,"x2":100.4,"y":-24.4,"y2":-37.8},
{"p":"D","k":"gene","x":-1.75,"x2":11.9,"y":-53.3,"y2":-68.9},
{"p":"D","k":"ncRNA","x":13.7,"x2":93.7,"y":-53.3,"y2":-68.9},
{"p":"D","k":"ncRNA","x":2.1,"x2":94.4,"y":-100,"y2":-113.3},
{"p":"E","k":"gene","x":-0.35,"x2":2.1,"y":-42,"y2":-57.8},
{"p":"E","k":"gene","x":99.3,"x2":100,"y":-62,"y2":-82.2},
{"p":"F","k":"gene","x":-1.05,"x2":3.5,"y":-33.3,"y2":-53.3},
{"p":"F","k":"pseudogene","x":10.9,"x2":14.4,"y":-60,"y2":-84.4},
{"p":"F","k":"pseudogene","x":98.6,"x2":99.6,"y":-62,"y2":-84.4}
],
"arrows": [
{"p":"A","x":0,"x2":99.5,"y":-18},
{"p":"B","x":0.7,"x2":100.3,"y":-16},
{"p":"C","x":0,"x2":99.5,"y":-13.3},
{"p":"D","x":-1,"x2":100.3,"y":-11},
{"p":"E","x":-0.35,"x2":99.5,"y":-17.8},
{"p":"F","x":0,"x2":100.3,"y":-22.2}
],
"heads": [
{"p":"A","x":99.8,"y":-18},
{"p":"B","x":100.6,"y":-16},
{"p":"C","x":99.8,"y":-13.3},
{"p":"D","x":100.6,"y":-11},
{"p":"E","x":99.8,"y":-17.8},
{"p":"F","x":100.6,"y":-22.2}
],
"bars": [
{"p":"A","x":-0.35,"x2":99.6,"y":-106},
{"p":"B","x":0.7,"x2":100.4,"y":-109},
{"p":"C","x":-0.7,"x2":99.6,"y":-155.6},
{"p":"D","x":-1.4,"x2":98.6,"y":-153.3},
{"p":"E","x":-1.4,"x2":99,"y":-106.7},
{"p":"F","x":-1.05,"x2":99.3,"y":-104.4}
],
"labels": [
{"p":"A","s":"L","k":"gene","t":"SPAC186.06c>","x":4.2,"y":-39},
{"p":"A","s":"L","k":"ncRNA","t":"SPNCRNA.310>","x":14.7,"y":-84},
{"p":"A","s":"L","k":"coord","t":"Chr I:5542970","x":-9.1,"y":-131},
{"p":"A","s":"R","k":"coord","t":"5545616","x":99.6,"y":-131},
{"p":"B","s":"L","k":"gene","t":"SPAC186.03c>","x":0,"y":-60},
{"p":"B","s":"R","k":"gene","t":"<SPAC186.04c","x":99.6,"y":-82},
{"p":"B","s":"L","k":"coord","t":"Chr I:5536277","x":-8.4,"y":-131},
{"p":"B","s":"R","k":"coord","t":"5538575","x":100.3,"y":-131},
{"p":"C","s":"L","k":"gene","t":"pho1>","x":-1,"y":-75.6},
{"p":"C","s":"R","k":"ncRNA","t":"SPNCRNA.446>","x":94,"y":-115.6},
{"p":"C","s":"L","k":"coord","t":"Chr II:4448915","x":-10.9,"y":-180},
{"p":"C","s":"R","k":"coord","t":"4453076","x":99.6,"y":-180},
{"p":"D","s":"R","k":"gene","t":"SPAC26F1.12c>","x":87,"y":-35.6},
{"p":"D","s":"L","k":"gene","t":"lrs1>","x":0.35,"y":-84.4},
{"p":"D","s":"L","k":"ncRNA","t":"SPNCRNA.1053>","x":13,"y":-84.4},
{"p":"D","s":"L","k":"ncRNA","t":"<SPNCRNA.1052","x":6,"y":-135.6},
{"p":"D","s":"L","k":"coord","t":"Chr I:5152276","x":-9.8,"y":-177.8},
{"p":"D","s":"R","k":"coord","t":"5153930","x":98.9,"y":-177.8},
{"p":"E","s":"L","k":"gene","t":"<SPAC750.06c","x":6.7,"y":-51},
{"p":"E","s":"R","k":"gene","t":"<SPAC750.07c","x":97.9,"y":-73.3},
{"p":"E","s":"L","k":"coord","t":"Chr I:5569804","x":-9.5,"y":-128.9},
{"p":"E","s":"R","k":"coord","t":"5575195","x":98.6,"y":-128.9},
{"p":"F","s":"L","k":"gene","t":"<SPBCPT2R1.04c","x":5.6,"y":-44.4},
{"p":"F","s":"L","k":"pseudogene","t":"<SPBCPT2R1.05c","x":17.2,"y":-73.3},
{"p":"F","s":"R","k":"pseudogene","t":"<SPBCPT2R1.05c","x":96.5,"y":-73.3},
{"p":"F","s":"L","k":"coord","t":"Chr II:4514601","x":-11.2,"y":-126.7},
{"p":"F","s":"R","k":"coord","t":"4519772","x":99.3,"y":-126.7}
],
"pointers": [
{"p":"C","x":82.5,"y":373},
{"p":"D","x":35.8,"y":89},
{"p":"D","x":57.5,"y":140}
],
"frame": [
{"x":0,"x2":0,"y":0,"y2":400},
{"x":100,"x2":100,"y":0,"y2":400},
{"x":0,"x2":100,"y":400,"y2":400}
],
"legtext": [
{"t":"Reading frames","x":-4.6,"y":1.4},
{"t":"3´/5´UTR of Gene","x":34.7,"y":1.4},
{"t":"ncRNA","x":34.7,"y":3.0},
{"t":"Pseudogene","x":34.7,"y":4.6},
{"t":"Forward strand>","x":67.4,"y":1.4},
{"t":"<Reverse strand","x":64.9,"y":3.0}
],
"legarrows": [
{"x":-5.3,"x2":4.2,"y":2.6,"d":"R","hx":4.6},
{"x":7.0,"x2":16.5,"y":5.3,"d":"L","hx":6.6}
],
"legswatch": [
{"f":"+1","x":-3.9,"y":3.95},{"f":"+2","x":-0.4,"y":3.95},{"f":"+3","x":3.5,"y":3.95},{"f":"-1","x":7.4,"y":3.95},{"f":"-2","x":11.2,"y":3.95},{"f":"-3","x":15.1,"y":3.95}
],
"legkeys": [
{"k":"gene","x":32.8,"y":1.35},{"k":"ncRNA","x":32.8,"y":2.95},{"k":"pseudogene","x":32.8,"y":4.55}
]
},
"concat": [
{
"width": 285, "height": 253,
"title": {"text": "A", "anchor": "start", "frame": "group", "dx": -50, "offset": -13, "baseline": "alphabetic", "fontSize": 15, "fontWeight": "normal", "color": "#111", "font": "Lato"},
"encoding": {
"x": {"field": "x", "type": "quantitative", "scale": {"domain": [0, 100], "nice": false, "zero": false}, "axis": null},
"y": {"field": "y", "type": "quantitative", "stack": null, "scale": {"domain": [-162, 400], "nice": false, "zero": false, "clamp": true}, "axis": {"values": [0,50,100,150,200,250,300,350,400], "labelExpr": "datum.value % 100 === 0 ? datum.label : ''", "grid": true, "gridColor": "#dcdcdc", "gridDash": [2,2], "domain": false, "tickColor": "#c4c4c4", "tickSize": 3, "labelPadding": 5, "labelFontSize": 12.5, "labelColor": "#222", "labelFont": "Lato", "title": "Accumulated alingments", "titleFont": "Lato", "titleFontSize": 14.5, "titleFontWeight": "normal", "titleColor": "#111", "titleX": -40, "titleY": 91, "titleBaseline": "alphabetic", "titleAlign": "center", "titleAngle": 270}}
},
"layer": [
{"data": {"name": "areas"}, "transform": [{"filter": "datum.p === 'A'"}], "mark": {"type": "area", "opacity": 0.8, "interpolate": "linear"}, "encoding": {"color": {"field": "f", "type": "nominal", "legend": null, "scale": {"domain": ["+1","+2","+3","-1","-2","-3","gene","ncRNA","pseudogene","coord"], "range": ["#3d6e5b","#8a5aa6","#4a77a6","#9e3035","#b38d2b","#b3b43a","#e3262c","#5d4a8c","#4a8fd6","#333333"]}}}},
{"data": {"name": "frame"}, "mark": {"type": "rule", "color": "#c4c4c4", "strokeWidth": 1}, "encoding": {"x2": {"field": "x2"}, "y2": {"field": "y2"}}},
{"data": {"name": "boxes"}, "transform": [{"filter": "datum.p === 'A'"}], "mark": {"type": "rect", "strokeWidth": 1.8}, "encoding": {"x2": {"field": "x2"}, "y2": {"field": "y2"}, "fill": {"field": "k", "type": "nominal", "legend": null, "scale": {"domain": ["gene","ncRNA","pseudogene"], "range": ["#ffffff","#ffffff","#6fa8dc"]}}, "stroke": {"field": "k", "type": "nominal", "legend": null, "scale": {"domain": ["gene","ncRNA","pseudogene"], "range": ["#ef7d1a","#e8a4a4","#3f7fc2"]}}}},
{"data": {"name": "arrows"}, "transform": [{"filter": "datum.p === 'A'"}], "mark": {"type": "rule", "color": "#000", "strokeWidth": 2}, "encoding": {"x2": {"field": "x2"}}},
{"data": {"name": "heads"}, "transform": [{"filter": "datum.p === 'A'"}], "mark": {"type": "point", "shape": "triangle-right", "filled": true, "color": "#000", "opacity": 1, "size": 45}},
{"data": {"name": "bars"}, "transform": [{"filter": "datum.p === 'A'"}], "mark": {"type": "rule", "color": "#9a9a9a", "strokeWidth": 5}, "encoding": {"x2": {"field": "x2"}}},
{"data": {"name": "bars"}, "transform": [{"filter": "datum.p === 'A'"}], "mark": {"type": "rule", "color": "#ffffff", "strokeWidth": 3}, "encoding": {"x2": {"field": "x2"}}},
{"data": {"name": "bars"}, "transform": [{"filter": "datum.p === 'A'"}], "mark": {"type": "rule", "color": "#000000", "strokeWidth": 3, "strokeDash": [10, 6]}, "encoding": {"x2": {"field": "x2"}}},
{"data": {"name": "labels"}, "transform": [{"filter": "datum.p === 'A' && datum.s === 'L'"}], "mark": {"type": "text", "align": "left", "baseline": "middle", "fontSize": 10}, "encoding": {"text": {"field": "t"}, "color": {"field": "k", "type": "nominal", "legend": null, "scale": {"domain": ["+1","+2","+3","-1","-2","-3","gene","ncRNA","pseudogene","coord"], "range": ["#3d6e5b","#8a5aa6","#4a77a6","#9e3035","#b38d2b","#b3b43a","#e3262c","#5d4a8c","#4a8fd6","#333333"]}}}},
{"data": {"name": "labels"}, "transform": [{"filter": "datum.p === 'A' && datum.s === 'R'"}], "mark": {"type": "text", "align": "right", "baseline": "middle", "fontSize": 10}, "encoding": {"text": {"field": "t"}, "color": {"field": "k", "type": "nominal", "legend": null, "scale": {"domain": ["+1","+2","+3","-1","-2","-3","gene","ncRNA","pseudogene","coord"], "range": ["#3d6e5b","#8a5aa6","#4a77a6","#9e3035","#b38d2b","#b3b43a","#e3262c","#5d4a8c","#4a8fd6","#333333"]}}}}
]
},
{
"width": 285, "height": 253,
"title": {"text": "B", "anchor": "start", "frame": "group", "dx": -44, "offset": -13, "baseline": "alphabetic", "fontSize": 15, "fontWeight": "normal", "color": "#111", "font": "Lato"},
"encoding": {
"x": {"field": "x", "type": "quantitative", "scale": {"domain": [0, 100], "nice": false, "zero": false}, "axis": null},
"y": {"field": "y", "type": "quantitative", "stack": null, "scale": {"domain": [-162, 400], "nice": false, "zero": false, "clamp": true}, "axis": {"values": [0,50,100,150,200,250,300,350,400], "labelExpr": "datum.value % 100 === 0 ? datum.label : ''", "grid": true, "gridColor": "#dcdcdc", "gridDash": [2,2], "domain": false, "tickColor": "#c4c4c4", "tickSize": 3, "labelPadding": 5, "labelFontSize": 12.5, "labelColor": "#222", "labelFont": "Lato", "title": null}}
},
"layer": [
{"data": {"name": "areas"}, "transform": [{"filter": "datum.p === 'B'"}], "mark": {"type": "area", "opacity": 0.8, "interpolate": "linear"}, "encoding": {"color": {"field": "f", "type": "nominal", "legend": null, "scale": {"domain": ["+1","+2","+3","-1","-2","-3","gene","ncRNA","pseudogene","coord"], "range": ["#3d6e5b","#8a5aa6","#4a77a6","#9e3035","#b38d2b","#b3b43a","#e3262c","#5d4a8c","#4a8fd6","#333333"]}}}},
{"data": {"name": "frame"}, "mark": {"type": "rule", "color": "#c4c4c4", "strokeWidth": 1}, "encoding": {"x2": {"field": "x2"}, "y2": {"field": "y2"}}},
{"data": {"name": "boxes"}, "transform": [{"filter": "datum.p === 'B'"}], "mark": {"type": "rect", "strokeWidth": 1.8}, "encoding": {"x2": {"field": "x2"}, "y2": {"field": "y2"}, "fill": {"field": "k", "type": "nominal", "legend": null, "scale": {"domain": ["gene","ncRNA","pseudogene"], "range": ["#ffffff","#ffffff","#6fa8dc"]}}, "stroke": {"field": "k", "type": "nominal", "legend": null, "scale": {"domain": ["gene","ncRNA","pseudogene"], "range": ["#ef7d1a","#e8a4a4","#3f7fc2"]}}}},
{"data": {"name": "arrows"}, "transform": [{"filter": "datum.p === 'B'"}], "mark": {"type": "rule", "color": "#000", "strokeWidth": 2}, "encoding": {"x2": {"field": "x2"}}},
{"data": {"name": "heads"}, "transform": [{"filter": "datum.p === 'B'"}], "mark": {"type": "point", "shape": "triangle-right", "filled": true, "color": "#000", "opacity": 1, "size": 45}},
{"data": {"name": "bars"}, "transform": [{"filter": "datum.p === 'B'"}], "mark": {"type": "rule", "color": "#9a9a9a", "strokeWidth": 5}, "encoding": {"x2": {"field": "x2"}}},
{"data": {"name": "bars"}, "transform": [{"filter": "datum.p === 'B'"}], "mark": {"type": "rule", "color": "#ffffff", "strokeWidth": 3}, "encoding": {"x2": {"field": "x2"}}},
{"data": {"name": "bars"}, "transform": [{"filter": "datum.p === 'B'"}], "mark": {"type": "rule", "color": "#000000", "strokeWidth": 3, "strokeDash": [10, 6]}, "encoding": {"x2": {"field": "x2"}}},
{"data": {"name": "labels"}, "transform": [{"filter": "datum.p === 'B' && datum.s === 'L'"}], "mark": {"type": "text", "align": "left", "baseline": "middle", "fontSize": 10}, "encoding": {"text": {"field": "t"}, "color": {"field": "k", "type": "nominal", "legend": null, "scale": {"domain": ["+1","+2","+3","-1","-2","-3","gene","ncRNA","pseudogene","coord"], "range": ["#3d6e5b","#8a5aa6","#4a77a6","#9e3035","#b38d2b","#b3b43a","#e3262c","#5d4a8c","#4a8fd6","#333333"]}}}},
{"data": {"name": "labels"}, "transform": [{"filter": "datum.p === 'B' && datum.s === 'R'"}], "mark": {"type": "text", "align": "right", "baseline": "middle", "fontSize": 10}, "encoding": {"text": {"field": "t"}, "color": {"field": "k", "type": "nominal", "legend": null, "scale": {"domain": ["+1","+2","+3","-1","-2","-3","gene","ncRNA","pseudogene","coord"], "range": ["#3d6e5b","#8a5aa6","#4a77a6","#9e3035","#b38d2b","#b3b43a","#e3262c","#5d4a8c","#4a8fd6","#333333"]}}}}
]
},
{
"width": 285, "height": 284,
"title": {"text": "C", "anchor": "start", "frame": "group", "dx": -50, "offset": -17, "baseline": "alphabetic", "fontSize": 15, "fontWeight": "normal", "color": "#111", "font": "Lato"},
"encoding": {
"x": {"field": "x", "type": "quantitative", "scale": {"domain": [0, 100], "nice": false, "zero": false}, "axis": null},
"y": {"field": "y", "type": "quantitative", "stack": null, "scale": {"domain": [-231, 400], "nice": false, "zero": false, "clamp": true}, "axis": {"values": [0,50,100,150,200,250,300,350,400], "labelExpr": "datum.value % 100 === 0 ? datum.label : ''", "grid": true, "gridColor": "#dcdcdc", "gridDash": [2,2], "domain": false, "tickColor": "#c4c4c4", "tickSize": 3, "labelPadding": 5, "labelFontSize": 12.5, "labelColor": "#222", "labelFont": "Lato", "title": "Accumulated alingments", "titleFont": "Lato", "titleFontSize": 14.5, "titleFontWeight": "normal", "titleColor": "#111", "titleX": -40, "titleY": 92, "titleBaseline": "alphabetic", "titleAlign": "center", "titleAngle": 270}}
},
"layer": [
{"data": {"name": "areas"}, "transform": [{"filter": "datum.p === 'C'"}], "mark": {"type": "area", "opacity": 0.8, "interpolate": "linear"}, "encoding": {"color": {"field": "f", "type": "nominal", "legend": null, "scale": {"domain": ["+1","+2","+3","-1","-2","-3","gene","ncRNA","pseudogene","coord"], "range": ["#3d6e5b","#8a5aa6","#4a77a6","#9e3035","#b38d2b","#b3b43a","#e3262c","#5d4a8c","#4a8fd6","#333333"]}}}},
{"data": {"name": "frame"}, "mark": {"type": "rule", "color": "#c4c4c4", "strokeWidth": 1}, "encoding": {"x2": {"field": "x2"}, "y2": {"field": "y2"}}},
{"data": {"name": "boxes"}, "transform": [{"filter": "datum.p === 'C'"}], "mark": {"type": "rect", "strokeWidth": 1.8}, "encoding": {"x2": {"field": "x2"}, "y2": {"field": "y2"}, "fill": {"field": "k", "type": "nominal", "legend": null, "scale": {"domain": ["gene","ncRNA","pseudogene"], "range": ["#ffffff","#ffffff","#6fa8dc"]}}, "stroke": {"field": "k", "type": "nominal", "legend": null, "scale": {"domain": ["gene","ncRNA","pseudogene"], "range": ["#ef7d1a","#e8a4a4","#3f7fc2"]}}}},
{"data": {"name": "arrows"}, "transform": [{"filter": "datum.p === 'C'"}], "mark": {"type": "rule", "color": "#000", "strokeWidth": 2}, "encoding": {"x2": {"field": "x2"}}},
{"data": {"name": "heads"}, "transform": [{"filter": "datum.p === 'C'"}], "mark": {"type": "point", "shape": "triangle-right", "filled": true, "color": "#000", "opacity": 1, "size": 45}},
{"data": {"name": "bars"}, "transform": [{"filter": "datum.p === 'C'"}], "mark": {"type": "rule", "color": "#9a9a9a", "strokeWidth": 5}, "encoding": {"x2": {"field": "x2"}}},
{"data": {"name": "bars"}, "transform": [{"filter": "datum.p === 'C'"}], "mark": {"type": "rule", "color": "#ffffff", "strokeWidth": 3}, "encoding": {"x2": {"field": "x2"}}},
{"data": {"name": "bars"}, "transform": [{"filter": "datum.p === 'C'"}], "mark": {"type": "rule", "color": "#000000", "strokeWidth": 3, "strokeDash": [10, 6]}, "encoding": {"x2": {"field": "x2"}}},
{"data": {"name": "labels"}, "transform": [{"filter": "datum.p === 'C' && datum.s === 'L'"}], "mark": {"type": "text", "align": "left", "baseline": "middle", "fontSize": 10}, "encoding": {"text": {"field": "t"}, "color": {"field": "k", "type": "nominal", "legend": null, "scale": {"domain": ["+1","+2","+3","-1","-2","-3","gene","ncRNA","pseudogene","coord"], "range": ["#3d6e5b","#8a5aa6","#4a77a6","#9e3035","#b38d2b","#b3b43a","#e3262c","#5d4a8c","#4a8fd6","#333333"]}}}},
{"data": {"name": "labels"}, "transform": [{"filter": "datum.p === 'C' && datum.s === 'R'"}], "mark": {"type": "text", "align": "right", "baseline": "middle", "fontSize": 10}, "encoding": {"text": {"field": "t"}, "color": {"field": "k", "type": "nominal", "legend": null, "scale": {"domain": ["+1","+2","+3","-1","-2","-3","gene","ncRNA","pseudogene","coord"], "range": ["#3d6e5b","#8a5aa6","#4a77a6","#9e3035","#b38d2b","#b3b43a","#e3262c","#5d4a8c","#4a8fd6","#333333"]}}}},
{"data": {"name": "pointers"}, "transform": [{"filter": "datum.p === 'C'"}], "mark": {"type": "text", "text": "➘", "font": "DejaVu Sans", "fontSize": 18, "fontWeight": "bold", "color": "#4a8ccc", "align": "center", "baseline": "middle"}}
]
},
{
"width": 285, "height": 284,
"title": {"text": "D", "anchor": "start", "frame": "group", "dx": -44, "offset": -17, "baseline": "alphabetic", "fontSize": 15, "fontWeight": "normal", "color": "#111", "font": "Lato"},
"encoding": {
"x": {"field": "x", "type": "quantitative", "scale": {"domain": [0, 100], "nice": false, "zero": false}, "axis": null},
"y": {"field": "y", "type": "quantitative", "stack": null, "scale": {"domain": [-231, 400], "nice": false, "zero": false, "clamp": true}, "axis": {"values": [0,50,100,150,200,250,300,350,400], "labelExpr": "datum.value % 100 === 0 ? datum.label : ''", "grid": true, "gridColor": "#dcdcdc", "gridDash": [2,2], "domain": false, "tickColor": "#c4c4c4", "tickSize": 3, "labelPadding": 5, "labelFontSize": 12.5, "labelColor": "#222", "labelFont": "Lato", "title": null}}
},
"layer": [
{"data": {"name": "areas"}, "transform": [{"filter": "datum.p === 'D'"}], "mark": {"type": "area", "opacity": 0.8, "interpolate": "linear"}, "encoding": {"color": {"field": "f", "type": "nominal", "legend": null, "scale": {"domain": ["+1","+2","+3","-1","-2","-3","gene","ncRNA","pseudogene","coord"], "range": ["#3d6e5b","#8a5aa6","#4a77a6","#9e3035","#b38d2b","#b3b43a","#e3262c","#5d4a8c","#4a8fd6","#333333"]}}}},
{"data": {"name": "frame"}, "mark": {"type": "rule", "color": "#c4c4c4", "strokeWidth": 1}, "encoding": {"x2": {"field": "x2"}, "y2": {"field": "y2"}}},
{"data": {"name": "boxes"}, "transform": [{"filter": "datum.p === 'D'"}], "mark": {"type": "rect", "strokeWidth": 1.8}, "encoding": {"x2": {"field": "x2"}, "y2": {"field": "y2"}, "fill": {"field": "k", "type": "nominal", "legend": null, "scale": {"domain": ["gene","ncRNA","pseudogene"], "range": ["#ffffff","#ffffff","#6fa8dc"]}}, "stroke": {"field": "k", "type": "nominal", "legend": null, "scale": {"domain": ["gene","ncRNA","pseudogene"], "range": ["#ef7d1a","#e8a4a4","#3f7fc2"]}}}},
{"data": {"name": "arrows"}, "transform": [{"filter": "datum.p === 'D'"}], "mark": {"type": "rule", "color": "#000", "strokeWidth": 2}, "encoding": {"x2": {"field": "x2"}}},
{"data": {"name": "heads"}, "transform": [{"filter": "datum.p === 'D'"}], "mark": {"type": "point", "shape": "triangle-right", "filled": true, "color": "#000", "opacity": 1, "size": 45}},
{"data": {"name": "bars"}, "transform": [{"filter": "datum.p === 'D'"}], "mark": {"type": "rule", "color": "#9a9a9a", "strokeWidth": 5}, "encoding": {"x2": {"field": "x2"}}},
{"data": {"name": "bars"}, "transform": [{"filter": "datum.p === 'D'"}], "mark": {"type": "rule", "color": "#ffffff", "strokeWidth": 3}, "encoding": {"x2": {"field": "x2"}}},
{"data": {"name": "bars"}, "transform": [{"filter": "datum.p === 'D'"}], "mark": {"type": "rule", "color": "#000000", "strokeWidth": 3, "strokeDash": [10, 6]}, "encoding": {"x2": {"field": "x2"}}},
{"data": {"name": "labels"}, "transform": [{"filter": "datum.p === 'D' && datum.s === 'L'"}], "mark": {"type": "text", "align": "left", "baseline": "middle", "fontSize": 10}, "encoding": {"text": {"field": "t"}, "color": {"field": "k", "type": "nominal", "legend": null, "scale": {"domain": ["+1","+2","+3","-1","-2","-3","gene","ncRNA","pseudogene","coord"], "range": ["#3d6e5b","#8a5aa6","#4a77a6","#9e3035","#b38d2b","#b3b43a","#e3262c","#5d4a8c","#4a8fd6","#333333"]}}}},
{"data": {"name": "labels"}, "transform": [{"filter": "datum.p === 'D' && datum.s === 'R'"}], "mark": {"type": "text", "align": "right", "baseline": "middle", "fontSize": 10}, "encoding": {"text": {"field": "t"}, "color": {"field": "k", "type": "nominal", "legend": null, "scale": {"domain": ["+1","+2","+3","-1","-2","-3","gene","ncRNA","pseudogene","coord"], "range": ["#3d6e5b","#8a5aa6","#4a77a6","#9e3035","#b38d2b","#b3b43a","#e3262c","#5d4a8c","#4a8fd6","#333333"]}}}},
{"data": {"name": "pointers"}, "transform": [{"filter": "datum.p === 'D'"}], "mark": {"type": "text", "text": "➘", "font": "DejaVu Sans", "fontSize": 18, "fontWeight": "bold", "color": "#4a8ccc", "align": "center", "baseline": "middle"}}
]
},
{
"width": 285, "height": 252,
"title": {"text": "E", "anchor": "start", "frame": "group", "dx": -50, "offset": -13, "baseline": "alphabetic", "fontSize": 15, "fontWeight": "normal", "color": "#111", "font": "Lato"},
"encoding": {
"x": {"field": "x", "type": "quantitative", "scale": {"domain": [0, 100], "nice": false, "zero": false}, "axis": null},
"y": {"field": "y", "type": "quantitative", "stack": null, "scale": {"domain": [-160, 400], "nice": false, "zero": false, "clamp": true}, "axis": {"values": [0,50,100,150,200,250,300,350,400], "labelExpr": "datum.value % 100 === 0 ? datum.label : ''", "grid": true, "gridColor": "#dcdcdc", "gridDash": [2,2], "domain": false, "tickColor": "#c4c4c4", "tickSize": 3, "labelPadding": 5, "labelFontSize": 12.5, "labelColor": "#222", "labelFont": "Lato", "title": "Accumulated alingments", "titleFont": "Lato", "titleFontSize": 14.5, "titleFontWeight": "normal", "titleColor": "#111", "titleX": -40, "titleY": 93, "titleBaseline": "alphabetic", "titleAlign": "center", "titleAngle": 270}}
},
"layer": [
{"data": {"name": "areas"}, "transform": [{"filter": "datum.p === 'E'"}], "mark": {"type": "area", "opacity": 0.8, "interpolate": "linear"}, "encoding": {"color": {"field": "f", "type": "nominal", "legend": null, "scale": {"domain": ["+1","+2","+3","-1","-2","-3","gene","ncRNA","pseudogene","coord"], "range": ["#3d6e5b","#8a5aa6","#4a77a6","#9e3035","#b38d2b","#b3b43a","#e3262c","#5d4a8c","#4a8fd6","#333333"]}}}},
{"data": {"name": "frame"}, "mark": {"type": "rule", "color": "#c4c4c4", "strokeWidth": 1}, "encoding": {"x2": {"field": "x2"}, "y2": {"field": "y2"}}},
{"data": {"name": "boxes"}, "transform": [{"filter": "datum.p === 'E'"}], "mark": {"type": "rect", "strokeWidth": 1.8}, "encoding": {"x2": {"field": "x2"}, "y2": {"field": "y2"}, "fill": {"field": "k", "type": "nominal", "legend": null, "scale": {"domain": ["gene","ncRNA","pseudogene"], "range": ["#ffffff","#ffffff","#6fa8dc"]}}, "stroke": {"field": "k", "type": "nominal", "legend": null, "scale": {"domain": ["gene","ncRNA","pseudogene"], "range": ["#ef7d1a","#e8a4a4","#3f7fc2"]}}}},
{"data": {"name": "arrows"}, "transform": [{"filter": "datum.p === 'E'"}], "mark": {"type": "rule", "color": "#000", "strokeWidth": 2}, "encoding": {"x2": {"field": "x2"}}},
{"data": {"name": "heads"}, "transform": [{"filter": "datum.p === 'E'"}], "mark": {"type": "point", "shape": "triangle-right", "filled": true, "color": "#000", "opacity": 1, "size": 45}},
{"data": {"name": "bars"}, "transform": [{"filter": "datum.p === 'E'"}], "mark": {"type": "rule", "color": "#9a9a9a", "strokeWidth": 5}, "encoding": {"x2": {"field": "x2"}}},
{"data": {"name": "bars"}, "transform": [{"filter": "datum.p === 'E'"}], "mark": {"type": "rule", "color": "#ffffff", "strokeWidth": 3}, "encoding": {"x2": {"field": "x2"}}},
{"data": {"name": "bars"}, "transform": [{"filter": "datum.p === 'E'"}], "mark": {"type": "rule", "color": "#000000", "strokeWidth": 3, "strokeDash": [10, 6]}, "encoding": {"x2": {"field": "x2"}}},
{"data": {"name": "labels"}, "transform": [{"filter": "datum.p === 'E' && datum.s === 'L'"}], "mark": {"type": "text", "align": "left", "baseline": "middle", "fontSize": 10}, "encoding": {"text": {"field": "t"}, "color": {"field": "k", "type": "nominal", "legend": null, "scale": {"domain": ["+1","+2","+3","-1","-2","-3","gene","ncRNA","pseudogene","coord"], "range": ["#3d6e5b","#8a5aa6","#4a77a6","#9e3035","#b38d2b","#b3b43a","#e3262c","#5d4a8c","#4a8fd6","#333333"]}}}},
{"data": {"name": "labels"}, "transform": [{"filter": "datum.p === 'E' && datum.s === 'R'"}], "mark": {"type": "text", "align": "right", "baseline": "middle", "fontSize": 10}, "encoding": {"text": {"field": "t"}, "color": {"field": "k", "type": "nominal", "legend": null, "scale": {"domain": ["+1","+2","+3","-1","-2","-3","gene","ncRNA","pseudogene","coord"], "range": ["#3d6e5b","#8a5aa6","#4a77a6","#9e3035","#b38d2b","#b3b43a","#e3262c","#5d4a8c","#4a8fd6","#333333"]}}}}
]
},
{
"width": 285, "height": 252,
"title": {"text": "F", "anchor": "start", "frame": "group", "dx": -44, "offset": -13, "baseline": "alphabetic", "fontSize": 15, "fontWeight": "normal", "color": "#111", "font": "Lato"},
"encoding": {
"x": {"field": "x", "type": "quantitative", "scale": {"domain": [0, 100], "nice": false, "zero": false}, "axis": null},
"y": {"field": "y", "type": "quantitative", "stack": null, "scale": {"domain": [-160, 400], "nice": false, "zero": false, "clamp": true}, "axis": {"values": [0,50,100,150,200,250,300,350,400], "labelExpr": "datum.value % 100 === 0 ? datum.label : ''", "grid": true, "gridColor": "#dcdcdc", "gridDash": [2,2], "domain": false, "tickColor": "#c4c4c4", "tickSize": 3, "labelPadding": 5, "labelFontSize": 12.5, "labelColor": "#222", "labelFont": "Lato", "title": null}}
},
"layer": [
{"data": {"name": "areas"}, "transform": [{"filter": "datum.p === 'F'"}], "mark": {"type": "area", "opacity": 0.8, "interpolate": "linear"}, "encoding": {"color": {"field": "f", "type": "nominal", "legend": null, "scale": {"domain": ["+1","+2","+3","-1","-2","-3","gene","ncRNA","pseudogene","coord"], "range": ["#3d6e5b","#8a5aa6","#4a77a6","#9e3035","#b38d2b","#b3b43a","#e3262c","#5d4a8c","#4a8fd6","#333333"]}}}},
{"data": {"name": "frame"}, "mark": {"type": "rule", "color": "#c4c4c4", "strokeWidth": 1}, "encoding": {"x2": {"field": "x2"}, "y2": {"field": "y2"}}},
{"data": {"name": "boxes"}, "transform": [{"filter": "datum.p === 'F'"}], "mark": {"type": "rect", "strokeWidth": 1.8}, "encoding": {"x2": {"field": "x2"}, "y2": {"field": "y2"}, "fill": {"field": "k", "type": "nominal", "legend": null, "scale": {"domain": ["gene","ncRNA","pseudogene"], "range": ["#ffffff","#ffffff","#6fa8dc"]}}, "stroke": {"field": "k", "type": "nominal", "legend": null, "scale": {"domain": ["gene","ncRNA","pseudogene"], "range": ["#ef7d1a","#e8a4a4","#3f7fc2"]}}}},
{"data": {"name": "arrows"}, "transform": [{"filter": "datum.p === 'F'"}], "mark": {"type": "rule", "color": "#000", "strokeWidth": 2}, "encoding": {"x2": {"field": "x2"}}},
{"data": {"name": "heads"}, "transform": [{"filter": "datum.p === 'F'"}], "mark": {"type": "point", "shape": "triangle-right", "filled": true, "color": "#000", "opacity": 1, "size": 45}},
{"data": {"name": "bars"}, "transform": [{"filter": "datum.p === 'F'"}], "mark": {"type": "rule", "color": "#9a9a9a", "strokeWidth": 5}, "encoding": {"x2": {"field": "x2"}}},
{"data": {"name": "bars"}, "transform": [{"filter": "datum.p === 'F'"}], "mark": {"type": "rule", "color": "#ffffff", "strokeWidth": 3}, "encoding": {"x2": {"field": "x2"}}},
{"data": {"name": "bars"}, "transform": [{"filter": "datum.p === 'F'"}], "mark": {"type": "rule", "color": "#000000", "strokeWidth": 3, "strokeDash": [10, 6]}, "encoding": {"x2": {"field": "x2"}}},
{"data": {"name": "labels"}, "transform": [{"filter": "datum.p === 'F' && datum.s === 'L'"}], "mark": {"type": "text", "align": "left", "baseline": "middle", "fontSize": 10}, "encoding": {"text": {"field": "t"}, "color": {"field": "k", "type": "nominal", "legend": null, "scale": {"domain": ["+1","+2","+3","-1","-2","-3","gene","ncRNA","pseudogene","coord"], "range": ["#3d6e5b","#8a5aa6","#4a77a6","#9e3035","#b38d2b","#b3b43a","#e3262c","#5d4a8c","#4a8fd6","#333333"]}}}},
{"data": {"name": "labels"}, "transform": [{"filter": "datum.p === 'F' && datum.s === 'R'"}], "mark": {"type": "text", "align": "right", "baseline": "middle", "fontSize": 10}, "encoding": {"text": {"field": "t"}, "color": {"field": "k", "type": "nominal", "legend": null, "scale": {"domain": ["+1","+2","+3","-1","-2","-3","gene","ncRNA","pseudogene","coord"], "range": ["#3d6e5b","#8a5aa6","#4a77a6","#9e3035","#b38d2b","#b3b43a","#e3262c","#5d4a8c","#4a8fd6","#333333"]}}}}
]
},
{
"width": 285, "height": 60,
"encoding": {
"x": {"field": "x", "type": "quantitative", "scale": {"domain": [0, 100], "nice": false, "zero": false}, "axis": null},
"y": {"field": "y", "type": "quantitative", "scale": {"domain": [0, 6], "nice": false, "zero": false, "reverse": true}, "axis": null}
},
"layer": [
{"data": {"name": "legtext"}, "mark": {"type": "text", "align": "left", "baseline": "middle", "fontSize": 9.5, "color": "#222"}, "encoding": {"text": {"field": "t"}}},
{"data": {"name": "legarrows"}, "mark": {"type": "rule", "color": "#000", "strokeWidth": 1.5}, "encoding": {"x2": {"field": "x2"}}},
{"data": {"name": "legarrows"}, "mark": {"type": "point", "filled": true, "color": "#000", "opacity": 1, "size": 30}, "encoding": {"x": {"field": "hx", "type": "quantitative"}, "shape": {"field": "d", "type": "nominal", "legend": null, "scale": {"domain": ["R","L"], "range": ["triangle-right","triangle-left"]}}}},
{"data": {"name": "legswatch"}, "mark": {"type": "tick", "orient": "vertical", "thickness": 5, "size": 11, "opacity": 0.55}, "encoding": {"color": {"field": "f", "type": "nominal", "legend": null, "scale": {"domain": ["+1","+2","+3","-1","-2","-3","gene","ncRNA","pseudogene","coord"], "range": ["#3d6e5b","#8a5aa6","#4a77a6","#9e3035","#b38d2b","#b3b43a","#e3262c","#5d4a8c","#4a8fd6","#333333"]}}}},
{"data": {"name": "legkeys"}, "mark": {"type": "point", "shape": "square", "filled": true, "opacity": 1, "size": 50, "strokeWidth": 2}, "encoding": {"fill": {"field": "k", "type": "nominal", "legend": null, "scale": {"domain": ["gene","ncRNA","pseudogene"], "range": ["#ffffff","#ffffff","#6fa8dc"]}}, "stroke": {"field": "k", "type": "nominal", "legend": null, "scale": {"domain": ["gene","ncRNA","pseudogene"], "range": ["#ef7d1a","#e8a4a4","#3f7fc2"]}}}}
]
}
]
}
